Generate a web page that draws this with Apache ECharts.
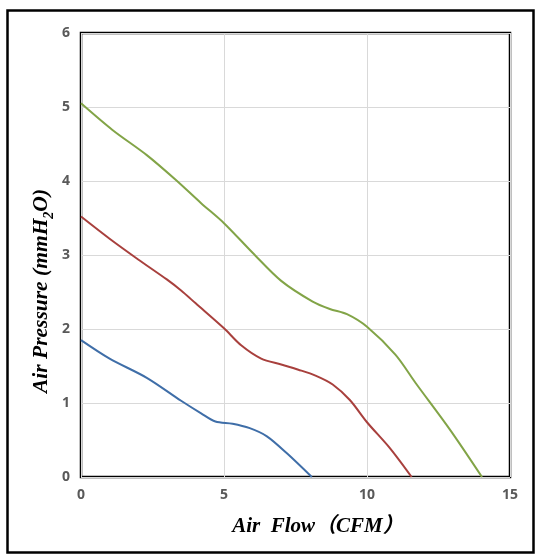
<!DOCTYPE html>
<html>
<head>
<meta charset="utf-8">
<script src="https://cdn.jsdelivr.net/npm/echarts@6/dist/echarts.min.js"></script>
<style>
html,body{margin:0;padding:0;background:#fff;}
#chart{width:537px;height:556px;}
</style>
</head>
<body>
<div id="chart"></div>
<script>
var xTicks = [0, 5, 10, 15];
var yTicks = [0, 1, 2, 3, 4, 5, 6];
var blueSeries = [[0,1.85],[1,1.6],[2.3,1.34],[3.5,1.03],[4.2,0.86],[4.7,0.75],[5.3,0.72],[5.9,0.66],[6.5,0.55],[7.2,0.32],[8.07,0]];
var redSeries = [[0,3.52],[1,3.22],[2,2.94],[3,2.67],[3.5,2.52],[4,2.35],[5,2.01],[5.6,1.78],[6.3,1.6],[7,1.52],[7.6,1.45],[8.2,1.37],[8.8,1.25],[9.4,1.04],[10,0.74],[10.8,0.39],[11.56,0]];
var greenSeries = [[0,5.05],[1.1,4.69],[2.3,4.35],[3.3,4.02],[4.2,3.7],[5,3.43],[6,3.03],[7,2.65],[8.1,2.37],[8.7,2.27],[9.3,2.2],[10,2.03],[11,1.65],[11.7,1.27],[12.9,0.64],[14.02,0]];
var xTitle = 'Air  Flow（CFM）';
var yTitleParts = ['Air Pressure (mmH', '2', 'O)'];

var chart = echarts.init(document.getElementById('chart'), null, {renderer:'canvas'});
var labelStyle = {color:'#595959', fontWeight:'bold', fontSize:14, fontFamily:'"Open Sans", "DejaVu Sans", sans-serif'};
function mkSeries(data, color){
  return {type:'line', data:data, smooth:0.3, showSymbol:false, symbol:'none',
    lineStyle:{color:color, width:2}, itemStyle:{color:color}};
}
chart.setOption({
  backgroundColor:'#fff',
  animation:false,
  grid:{left:81, top:33, right:27, bottom:79, show:true, borderColor:'#000', borderWidth:2.5, backgroundColor:'transparent'},
  xAxis:{type:'value', min:xTicks[0], max:xTicks[xTicks.length-1], interval:5,
    axisLine:{show:false}, axisTick:{show:false},
    axisLabel:Object.assign({margin:11}, labelStyle),
    splitLine:{show:true, lineStyle:{color:'#d9d9d9', width:1}}},
  yAxis:{type:'value', min:yTicks[0], max:yTicks[yTicks.length-1], interval:1,
    axisLine:{show:false}, axisTick:{show:false},
    axisLabel:Object.assign({margin:11}, labelStyle),
    splitLine:{show:true, lineStyle:{color:'#d9d9d9', width:1}}},
  series:[mkSeries(blueSeries,'#3f6ea8'), mkSeries(redSeries,'#a8403d'), mkSeries(greenSeries,'#82a447')],
  graphic:[
    {type:'rect', left:5, top:8, shape:{width:526, height:542}, style:{fill:'none', stroke:'#000', lineWidth:2.5}, z:10},
    {type:'text', x:318, y:527, style:{text:xTitle, fill:'#000', font:'italic bold 21px "Liberation Serif", "Noto Sans CJK SC", serif', textAlign:'center', textVerticalAlign:'middle'}},
    {type:'text', x:40, y:291, rotation:Math.PI/2,
      style:{text:'{a|'+yTitleParts[0]+'}{s|'+yTitleParts[1]+'}{a|'+yTitleParts[2]+'}', textAlign:'center', textVerticalAlign:'middle',
        rich:{a:{fill:'#000', fontFamily:'"Liberation Serif", serif', fontStyle:'italic', fontWeight:'bold', fontSize:21.5, verticalAlign:'bottom', lineHeight:24},
              s:{fill:'#000', fontFamily:'"Liberation Serif", serif', fontStyle:'italic', fontWeight:'bold', fontSize:14, verticalAlign:'bottom', lineHeight:18, padding:[0,0,-4,0]}}}}
  ]
});
</script>
</body>
</html>
